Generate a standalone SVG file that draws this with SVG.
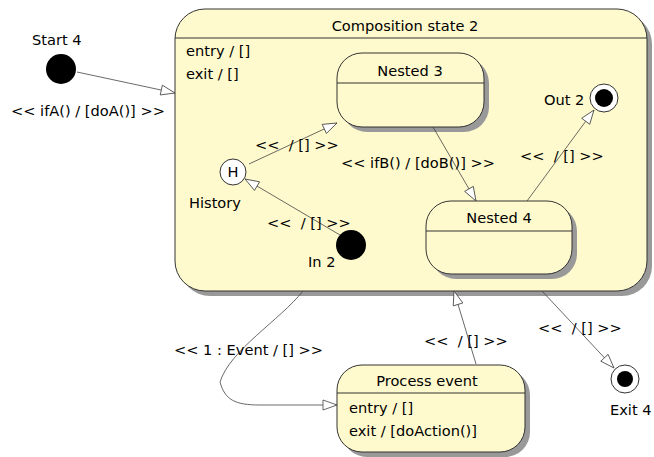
<svg xmlns="http://www.w3.org/2000/svg" width="654" height="457" viewBox="0 0 654 457">
<style>
text{font-family:"DejaVu Sans",sans-serif;font-size:14.6px;fill:#000;white-space:pre}
.st{fill:#fffacd;stroke:#333;stroke-width:1}
.sh{fill:#999;stroke:none}
.ln{fill:none;stroke:#333;stroke-width:1}
.c{fill:none;stroke:#444;stroke-width:0.8}
.mid{text-anchor:middle}
</style>
<defs>
<marker id="ah" markerWidth="16" markerHeight="12" refX="15" refY="6" orient="auto" markerUnits="userSpaceOnUse">
<path d="M1,1 L15,6 L1,11 Z" fill="#fff" stroke="#444" stroke-width="0.8"/>
</marker>
</defs>
<g id="composition">
<rect class="sh" x="180" y="14" width="472" height="282" rx="30"/>
<rect class="st" x="175" y="9" width="472" height="282" rx="30"/>
<line class="ln" x1="175" y1="38" x2="647" y2="38"/>
<text class="mid" x="405" y="31">Composition state 2</text>
<text x="186" y="56">entry / []</text>
<text x="186" y="79">exit / []</text>
</g>
<g id="start4">
<circle cx="61" cy="69" r="15" fill="#000"/>
<text x="32" y="45">Start 4</text>
</g>
<g id="history">
<circle cx="233" cy="172" r="13" fill="#fff" stroke="#333"/>
<text class="mid" x="233" y="177">H</text>
<text x="189" y="208">History</text>
</g>
<g id="nested3">
<rect class="sh" x="342" y="58" width="147" height="74" rx="25"/>
<rect class="st" x="337" y="53" width="147" height="74" rx="25"/>
<line class="ln" x1="337" y1="83" x2="484" y2="83"/>
<text class="mid" x="410" y="76">Nested 3</text>
</g>
<g id="nested4">
<rect class="sh" x="431" y="206" width="146" height="73" rx="25"/>
<rect class="st" x="426" y="201" width="146" height="73" rx="25"/>
<line class="ln" x1="426" y1="231" x2="572" y2="231"/>
<text class="mid" x="499" y="223">Nested 4</text>
</g>
<g id="out2">
<circle cx="604" cy="98" r="14" fill="#fff" stroke="#333"/>
<circle cx="604" cy="98" r="9" fill="#000"/>
<text x="544" y="105">Out 2</text>
</g>
<g id="in2">
<circle cx="351" cy="245" r="15" fill="#000"/>
<text x="308" y="267">In 2</text>
</g>
<g id="processEvent">
<rect class="sh" x="342" y="370" width="188" height="87" rx="25"/>
<rect class="st" x="337" y="365" width="188" height="87" rx="25"/>
<line class="ln" x1="337" y1="393" x2="525" y2="393"/>
<text class="mid" x="427" y="386">Process event</text>
<text x="349" y="413">entry / []</text>
<text x="349" y="436">exit / [doAction()]</text>
</g>
<g id="exit4">
<circle cx="625" cy="379" r="14" fill="#fff" stroke="#333"/>
<circle cx="625" cy="379" r="8" fill="#000"/>
<text x="610" y="415">Exit 4</text>
</g>
<g id="connectors">
<line class="c" x1="77" y1="72" x2="175" y2="93" marker-end="url(#ah)"/>
<text x="11" y="116">&lt;&lt; ifA() / [doA()] &gt;&gt;</text>
<line class="c" x1="249" y1="164" x2="337" y2="123" marker-end="url(#ah)"/>
<text x="255" y="150">&lt;&lt;  / [] &gt;&gt;</text>
<line class="c" x1="340" y1="235" x2="245" y2="179" marker-end="url(#ah)"/>
<text x="267" y="228">&lt;&lt;  / [] &gt;&gt;</text>
<line class="c" x1="433" y1="127" x2="476" y2="201" marker-end="url(#ah)"/>
<text x="341" y="168">&lt;&lt; ifB() / [doB()] &gt;&gt;</text>
<line class="c" x1="527" y1="201" x2="594" y2="110" marker-end="url(#ah)"/>
<text x="520" y="161">&lt;&lt;  / [] &gt;&gt;</text>
<path class="c" d="M303,291 C280,320 230,350 220,382 C225,400 235,405 260,405 L337,405" marker-end="url(#ah)"/>
<text x="174" y="355">&lt;&lt; 1 : Event / [] &gt;&gt;</text>
<line class="c" x1="476" y1="364" x2="454" y2="291" marker-end="url(#ah)"/>
<text x="424" y="346">&lt;&lt;  / [] &gt;&gt;</text>
<line class="c" x1="542" y1="291" x2="614" y2="368" marker-end="url(#ah)"/>
<text x="538" y="333">&lt;&lt;  / [] &gt;&gt;</text>
</g>
</svg>
